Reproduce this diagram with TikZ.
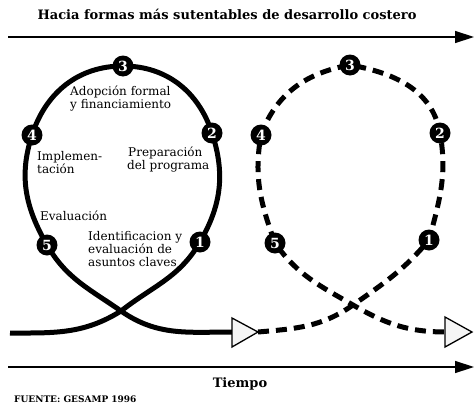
\documentclass[tikz,border=0pt]{standalone}
\usepackage{fontspec}
\setmainfont{DejaVu Serif}
\usetikzlibrary{arrows.meta}
\tikzset{
  stage/.style={circle, fill=black, inner sep=0pt, minimum size=21pt, text=white, font=\bfseries\fontsize{14}{14}\selectfont},
  loopline/.style={line width=5pt},
  dashloop/.style={line width=5pt, dash pattern=on 11pt off 7pt},
  openhead/.style={draw=black, line width=1.3pt, fill=gray!8},
  axis/.style={line width=1.4pt, -{Triangle[length=19pt,width=12pt]}},
  lbl/.style={font=\fontsize{12}{13}\selectfont, align=left, inner sep=0pt},
}
\begin{document}
\begin{tikzpicture}[x=1pt,y=1pt]
\useasboundingbox (0,0) rectangle (474,-407);
% title and axes
\node[font=\bfseries\fontsize{13}{13}\selectfont] (title) at (227,-14) {Hacia formas más sutentables de desarrollo costero};
\coordinate (ta) at (8,-37); \coordinate (tb) at (474,-37);
\draw[axis] (ta) -- (tb);
\coordinate (ba) at (8,-367); \coordinate (bb) at (474,-367);
\draw[axis] (ba) -- (bb);
\node[font=\bfseries\fontsize{13}{13}\selectfont] (tiempo) at (240,-384) {Tiempo};
\node[font=\bfseries\fontsize{9}{9}\selectfont, anchor=west, inner sep=0pt] (fuente) at (14,-399) {FUENTE: GESAMP 1996};
% left loop
\coordinate (s0) at (10,-333);
\coordinate (x1) at (121,-311);
\coordinate (p1) at (200,-242);
\coordinate (p2) at (212,-133);
\coordinate (p3) at (123,-66);
\coordinate (p4) at (32,-135);
\coordinate (p5) at (47,-245);
\coordinate (e1) at (233,-332);
\draw[loopline] (s0) to[out=0,in=212] (x1) to[out=38,in=-120] (p1)
  to[out=60,in=-72] (p2) to[out=108,in=0] (p3) to[out=180,in=72] (p4)
  to[out=-108,in=120] (p5) to[out=-60,in=145] (x1) to[out=-35,in=180] (e1);
\coordinate (h1a) at (232,-318); \coordinate (h1t) at (258,-332); \coordinate (h1b) at (232,-347);
\draw[openhead] (h1a) -- (h1t) -- (h1b) -- cycle;
% right loop
\coordinate (x2) at (353,-305);
\coordinate (q1) at (429,-240);
\coordinate (q2) at (440,-133);
\coordinate (q3) at (350,-65);
\coordinate (q4) at (261,-135);
\coordinate (q5) at (275,-243);
\coordinate (e2) at (446,-332);
\draw[dashloop] (h1t) to[out=5,in=215] (x2) to[out=35,in=-130] (q1)
  to[out=75,in=-80] (q2) to[out=100,in=-10] (q3) to[out=190,in=70] (q4)
  to[out=-100,in=110] (q5) to[out=-55,in=150] (x2) to[out=-30,in=180] (e2);
\coordinate (h2a) at (445,-317); \coordinate (h2t) at (472,-332); \coordinate (h2b) at (445,-347);
\draw[openhead] (h2a) -- (h2t) -- (h2b) -- cycle;
% stage markers
\node[stage] (n1) at (p1) {1};
\node[stage] (n2) at (p2) {2};
\node[stage] (n3) at (p3) {3};
\node[stage] (n4) at (p4) {4};
\node[stage] (n5) at (p5) {5};
\node[stage] (m1) at (q1) {1};
\node[stage] (m2) at (q2) {2};
\node[stage] (m3) at (q3) {3};
\node[stage] (m4) at (q4) {4};
\node[stage] (m5) at (q5) {5};
% labels
\node[lbl, anchor=north west] (la) at (70,-86) {Adopción formal\\y financiamiento};
\node[lbl, anchor=north west] (lb) at (37,-151) {Implemen-\\tación};
\node[lbl, anchor=north west] (lc) at (127,-147) {\hspace*{1pt}Preparación\\del programa};
\node[lbl, anchor=north west] (ld) at (40,-211) {Evaluación};
\node[lbl, anchor=north west] (le) at (88,-231) {Identificacion y\\evaluación de\\asuntos claves};
\end{tikzpicture}
\end{document}
